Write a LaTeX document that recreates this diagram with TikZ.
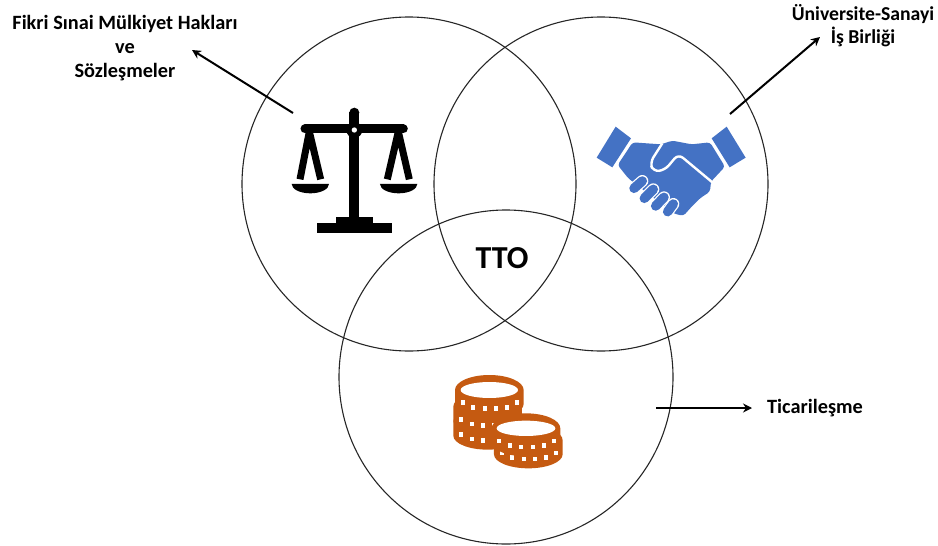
\documentclass[tikz,border=0pt]{standalone}
\usepackage{fontspec}
\setmainfont{Carlito}
\usetikzlibrary{arrows.meta}
\definecolor{handblue}{HTML}{4472C4}
\definecolor{coinorange}{HTML}{C55A11}
\tikzset{
	setcircle/.style={draw=black!85, line width=1.1pt, circle, minimum size=334pt, inner sep=0pt, outer sep=0pt},
	caption/.style={font=\fontsize{20.3}{24}\selectfont\bfseries, align=center, inner sep=0pt},
	pointer/.style={-{Stealth[length=9pt,width=9pt]}, line width=2pt},
	scaleicon/.style={line width=9pt, black, line cap=round},
	finger/.style={line width=9.5pt, line cap=round, handblue},
	fingergap/.style={line width=12pt, line cap=round, white}
}
% one coin of a stack: outer ring, body and the white notches on its edge
\newcommand{\coinpiece}[2]{
	\fill[coinorange] (#1-103,#2) -- (#1-103,#2+42) arc[start angle=180, end angle=0, x radius=103, y radius=42] -- (#1+103,#2) arc[start angle=0, end angle=-180, x radius=103, y radius=45] -- cycle;
	\foreach \dx/\dy in {-80/38,-48/52,-14/56,20/56,54/52,84/38}
		\fill[white] (#1+\dx-6,#2+\dy-7) rectangle (#1+\dx+6,#2+\dy+7);
}
\begin{document}
\begin{tikzpicture}[x=1pt,y=-1pt]
	\useasboundingbox (0,0) rectangle (938,546);

	\node[setcircle] (rights) at (409,184) {};
	\node[setcircle] (cooperation) at (601,184) {};
	\node[setcircle] (commerce) at (506,377) {};
	\node[font=\fontsize{32}{33}\selectfont\bfseries, inner sep=0pt] (tto) at (502,258) {TTO};

	\node[caption] (rightstext) at (125,48) {Fikri Sınai Mülkiyet Hakları\\ve\\Sözleşmeler};
	\node[caption, font=\fontsize{19.7}{23.5}\selectfont\bfseries] (cooperationtext) at (863,25.5) {Üniversite-Sanayi\\İş Birliği};
	\node[caption] (commercetext) at (815,408) {Ticarileşme};

	\coordinate (rightsstart) at (293,113);
	\coordinate (rightsend) at (192,50);
	\coordinate (cooperationstart) at (730,114);
	\coordinate (cooperationend) at (820,37);
	\coordinate (commercestart) at (656,408);
	\coordinate (commerceend) at (752,408);
	\draw[pointer] (rightsstart) -- (rightsend);
	\draw[pointer] (cooperationstart) -- (cooperationend);
	\draw[pointer] (commercestart) -- (commerceend);

	% scales
	\begin{scope}[shift={(270,90)},x=0.3333pt,y=-0.3333pt]
		\draw[scaleicon] (105,117) -- (400,117);
		\draw[scaleicon, line width=10pt, line cap=butt] (253,65) -- (253,400);
		\fill (253,68) circle[radius=15];
		\fill (253,120) circle[radius=24];
		\fill[white] (253,120) circle[radius=8];
		\draw[line width=7pt, line join=bevel] (90,268) -- (118,125) -- (152,268);
		\draw[line width=7pt, line join=bevel] (352,268) -- (385,125) -- (418,268);
		\fill (65,282) -- (177,282) arc[start angle=0, end angle=180, x radius=56, y radius=28] -- cycle;
		\fill (330,282) -- (442,282) arc[start angle=0, end angle=180, x radius=56, y radius=28] -- cycle;
		\fill (140,398) rectangle (367,428);
		\fill (198,380) rectangle (308,398);
	\end{scope}

	% handshake
	\begin{scope}[shift={(585,110)},x=0.3333pt,y=-0.3333pt]
		\fill[handblue] (92,50) -- (138,85) -- (82,172) -- (35,143) -- cycle;
		\fill[handblue] (425,50) -- (380,85) -- (434,172) -- (482,143) -- cycle;
		\fill[handblue, rounded corners=3pt] (143,97) -- (228,103) -- (262,92) -- (320,103) -- (375,97) -- (420,170) -- (378,215) -- (375,245) -- (345,265) -- (320,290) -- (295,318) -- (265,310) -- (130,205) -- (98,165) -- cycle;
		\draw[white, line width=2.4pt, rounded corners=6pt] (232,100) -- (195,158) -- (205,185) -- (240,180) -- (280,132) -- (382,217);
		\foreach \xa/\ya/\xb/\yb in {147/235/172/213,178/265/205/238,212/288/237/262,248/305/265/282}
			\draw[fingergap] (\xa,\ya) -- (\xb,\yb);
		\foreach \xa/\ya/\xb/\yb in {147/235/172/213,178/265/205/238,212/288/237/262,248/305/265/282}
			\draw[finger] (\xa,\ya) -- (\xb,\yb);
	\end{scope}

	% coins
	\begin{scope}[shift={(440,365)},x=0.3333pt,y=-0.3333pt]
		\coinpiece{143}{170}
		\coinpiece{143}{125}
		\coinpiece{148}{75}
		\fill[white] (148,75) ellipse[x radius=86, y radius=24];
		\coinpiece{265}{226}
		\coinpiece{258}{190}
		\fill[white] (258,190) ellipse[x radius=88, y radius=23];
	\end{scope}
\end{tikzpicture}
\end{document}
